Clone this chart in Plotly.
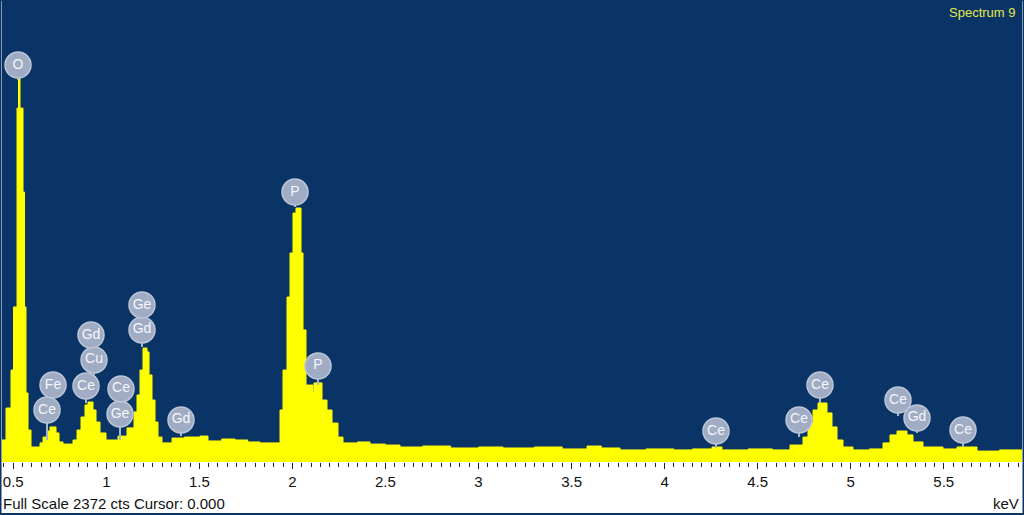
import plotly.graph_objects as go

# ---- spectrum data (step histogram: left edge energy in keV, counts) ----
spectrum_kev = [
    0.4395, 0.4610, 0.4879, 0.5013, 0.5202, 0.5282, 0.5363, 0.5524, 0.5605, 0.5685,
    0.5793, 0.5954, 0.6437, 0.6599, 0.6814, 0.6975, 0.7297, 0.7458, 0.7673, 0.8211,
    0.8426, 0.8640, 0.8855, 0.9017, 0.9285, 0.9447, 0.9661, 0.9984, 1.0629, 1.1112,
    1.1488, 1.1650, 1.1811, 1.1972, 1.2187, 1.2295, 1.2456, 1.2617, 1.2778, 1.2993,
    1.3530, 1.4200, 1.5035, 1.5465, 1.6200, 1.6916, 1.7600, 1.8259, 1.9334, 1.9495,
    1.9710, 1.9871, 2.0032, 2.0193, 2.0462, 2.0570, 2.0731, 2.1107, 2.1161, 2.1591,
    2.1859, 2.2128, 2.2450, 2.2719, 2.3500, 2.4170, 2.5000, 2.5782, 2.7000, 2.8500,
    3.0000, 3.1316, 3.3000, 3.4500, 3.5830, 3.6600, 3.7603, 3.9000, 4.0500, 4.1500,
    4.2547, 4.3084, 4.4500, 4.5800, 4.6738, 4.7437, 4.7705, 4.7974, 4.8243, 4.8726,
    4.8995, 4.9264, 4.9586, 5.0124, 5.1000, 5.1736, 5.2112, 5.2488, 5.3025, 5.3348,
    5.3885, 5.4960, 5.5712, 5.6787, 5.8000,
]
spectrum_counts = [
    113, 277, 472, 796, 1817, 1971, 1817, 1386, 796, 354,
    164, 77, 98, 128, 159, 180, 149, 103, 92, 113,
    164, 231, 293, 308, 267, 205, 149, 113, 133, 175,
    257, 344, 472, 585, 565, 447, 318, 205, 128, 98,
    123, 128, 133, 108, 118, 113, 103, 98, 267, 472,
    847, 1073, 1278, 1304, 1073, 678, 395, 359, 406, 318,
    267, 200, 128, 98, 103, 92, 87, 77, 82, 72,
    77, 72, 77, 67, 82, 72, 62, 67, 62, 67,
    77, 62, 67, 62, 87, 128, 200, 267, 303, 252,
    180, 113, 77, 62, 67, 98, 139, 159, 139, 103,
    77, 67, 77, 56, 62,
]
spectrum_end_kev = 5.93

# ---- element peak labels ----
label_text = ["O", "Ce", "Fe", "Ce", "Cu", "Gd", "Ge", "Ce", "Gd", "Ge",
              "Gd", "P", "P", "Ce", "Ce", "Ce", "Ce", "Gd", "Ce"]
label_kev = [0.5255, 0.6814, 0.7136, 0.8909, 0.9339, 0.9178, 1.0736, 1.0790, 1.1918, 1.1918,
             1.4014, 2.0140, 2.1376, 4.2762, 4.7222, 4.8350, 5.2542, 5.3563, 5.6035]
label_counts = [2038, 267, 395, 390, 524, 652, 246, 375, 678, 806,
                216, 1386, 493, 159, 216, 395, 318, 226, 164]
stem_end_counts = [1961, 113, 318, 303, 447, 575, 113, 293, 590, 729,
                   133, 1309, 395, 72, 128, 303, 236, 149, 77]

FULL_SCALE = 2372
NAVY = "#0b3466"
YELLOW = "#ffff00"
FONT = "Liberation Sans, Arial, sans-serif"

fig = go.Figure()

fig.add_trace(go.Scatter(
    x=spectrum_kev + [spectrum_end_kev],
    y=spectrum_counts + [spectrum_counts[-1]],
    mode="lines", line=dict(color=YELLOW, width=1, shape="hv"),
    fill="tozeroy", fillcolor=YELLOW, hoverinfo="skip", showlegend=False,
))

stem_x, stem_y = [], []
for e, c, s in zip(label_kev, label_counts, stem_end_counts):
    stem_x += [e, e, None]
    stem_y += [c, s, None]
fig.add_trace(go.Scatter(
    x=stem_x, y=stem_y, mode="lines",
    line=dict(color="#a9b7cf", width=2), hoverinfo="skip", showlegend=False,
))

fig.add_trace(go.Scatter(
    x=label_kev, y=label_counts, mode="markers+text",
    text=label_text, textposition="middle center",
    textfont=dict(family=FONT, size=14, color="#f4f6fa"),
    marker=dict(symbol="circle", size=26, color="#a0acc3",
                line=dict(color="#bcc6d8", width=1.5)),
    hoverinfo="skip", showlegend=False,
))

fig.update_layout(
    width=1024, height=515,
    margin=dict(l=2, r=2, t=0, b=53),
    paper_bgcolor="white", plot_bgcolor=NAVY,
    xaxis=dict(range=[0.4395, 5.9205], showgrid=False, zeroline=False,
               tick0=0.5, dtick=0.5, ticks="outside", ticklen=6, tickwidth=1,
               tickcolor="#202020", showline=False,
               tickfont=dict(family=FONT, size=15, color="#111111"),
               minor=dict(dtick=0.05, tick0=0.5, ticks="outside", ticklen=4, tickcolor="#202020")),
    yaxis=dict(range=[0, FULL_SCALE], visible=False, showgrid=False, zeroline=False),
    annotations=[
        dict(text="Spectrum 9", xref="paper", yref="paper", x=0.995, y=0.974,
             xanchor="right", yanchor="middle", showarrow=False,
             font=dict(family=FONT, size=13, color="#e4e84a")),
        dict(text="Full Scale %d cts Cursor: 0.000" % FULL_SCALE, xref="paper", yref="paper",
             x=-0.001, y=-0.089, xanchor="left", yanchor="middle", showarrow=False,
             font=dict(family=FONT, size=15, color="#111111")),
        dict(text="keV", xref="paper", yref="paper", x=0.999, y=-0.089,
             xanchor="right", yanchor="middle", showarrow=False,
             font=dict(family=FONT, size=15, color="#111111")),
    ],
    shapes=[
        dict(type="rect", xref="paper", yref="paper", x0=-1.5 / 1020, x1=1 + 1.5 / 1020,
             y0=-52 / 462, y1=1, line=dict(color=NAVY, width=2), fillcolor="rgba(0,0,0,0)"),
    ],
)

fig.write_html("out.html", config={"displayModeBar": False},
               post_script="document.body.style.margin='0';document.body.style.overflow='hidden';")
